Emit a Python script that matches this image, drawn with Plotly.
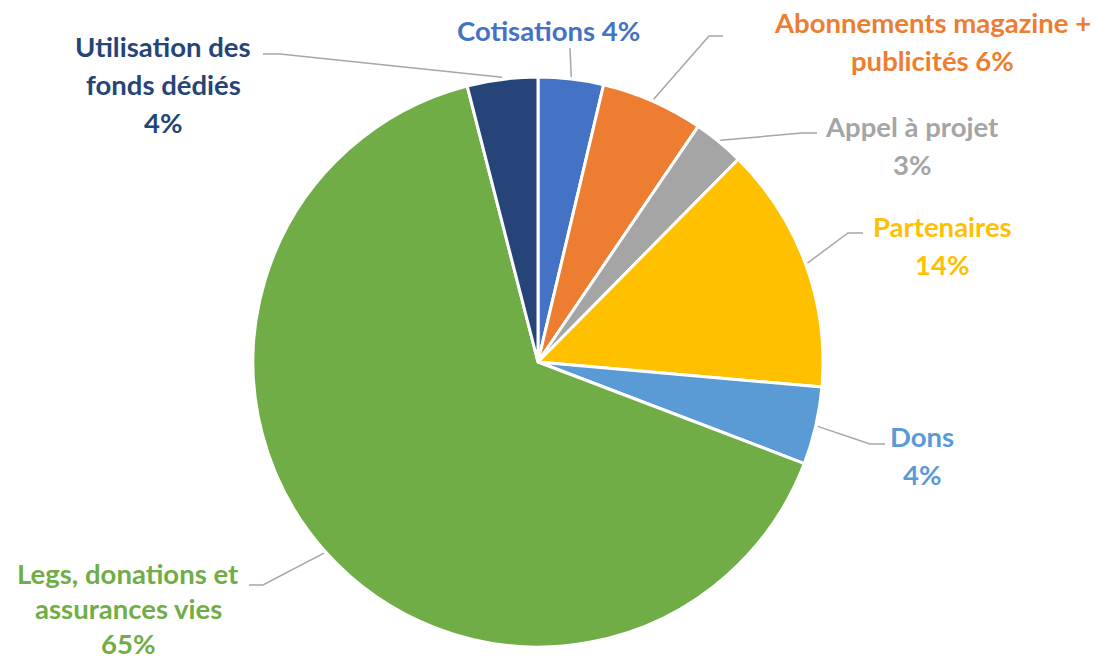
import math
import plotly.graph_objects as go

# ---- data (clockwise from 12 o'clock) ----
categories = ["Cotisations", "Abonnements magazine + publicités", "Appel à projet",
              "Partenaires", "Dons", "Legs, donations et assurances vies",
              "Utilisation des fonds dédiés"]
values = [3.7, 5.8, 2.9, 14.0, 4.4, 65.2, 4.0]
colors = ["#4472C4", "#ED7D31", "#A5A5A5", "#FFC000", "#5B9BD5", "#70AD47", "#264478"]

# label line breaks ({p} = percentage)
label_lines = [
    ["Cotisations {p}"],
    ["Abonnements magazine +", "publicités {p}"],
    ["Appel à projet", "{p}"],
    ["Partenaires", "{p}"],
    ["Dons", "{p}"],
    ["Legs, donations et", "assurances vies", "{p}"],
    ["Utilisation des", "fonds dédiés", "{p}"],
]

# ---- layout / style ----
W, H = 1105, 663
CX, CY, R = 538, 362, 285
# label center x, first-line center y, line spacing
label_pos = [(548, 30, 38), (932, 22, 38), (912, 126, 38), (942, 226, 38),
             (922, 436, 38), (128, 573, 35), (163, 46, 38)]
# leader line: start (near label), elbow
leader = [
    [(570, 48), (570, 50)],
    [(723, 36), (709, 36)],
    [(817, 133), (802, 133)],
    [(863, 233), (848, 233)],
    [(885, 444), (870, 444)],
    [(249, 585), (263, 585)],
    [(263, 54), (280, 54)],
]
FONT = "Lato"
FSIZE = 27.5

total = sum(values)

fig = go.Figure()
fig.add_trace(go.Pie(
    labels=categories, values=values, sort=False, direction="clockwise", rotation=0,
    marker=dict(colors=colors, line=dict(color="white", width=3)),
    textinfo="none", hoverinfo="label+percent", showlegend=False,
    domain=dict(x=[(CX - R) / W, (CX + R) / W], y=[1 - (CY + R) / H, 1 - (CY - R) / H]),
))

# leader lines, tip at the slice middle on the pie edge
cum = 0.0
lx, ly = [], []
for i, v in enumerate(values):
    theta = 2 * math.pi * (cum + v / 2) / total
    cum += v
    tip = (CX + (R + 2) * math.sin(theta), CY - (R + 2) * math.cos(theta))
    pts = leader[i] + [tip]
    lx += [p[0] for p in pts] + [None]
    ly += [p[1] for p in pts] + [None]
fig.add_trace(go.Scatter(x=lx, y=ly, mode="lines", line=dict(color="#A6A6A6", width=1.5),
                         hoverinfo="skip", showlegend=False))

annotations = []
for i, v in enumerate(values):
    pct = f"{round(v / total * 100)}%"
    x0, y0, lh = label_pos[i]
    for j, ln in enumerate(label_lines[i]):
        annotations.append(dict(
            x=x0, y=y0 + j * lh, xref="x", yref="y", text=ln.format(p=pct),
            showarrow=False, xanchor="center", yanchor="middle", borderpad=0,
            font=dict(family=FONT, size=FSIZE, color=colors[i], weight="bold"),
        ))

fig.update_layout(
    width=W, height=H, margin=dict(l=0, r=0, t=0, b=0),
    paper_bgcolor="white", plot_bgcolor="white",
    xaxis=dict(range=[0, W], visible=False, fixedrange=True, domain=[0, 1]),
    yaxis=dict(range=[H, 0], visible=False, fixedrange=True, domain=[0, 1]),
    annotations=annotations,
)
fig.write_html("out.html", config={"displayModeBar": False},
               post_script="document.body.style.margin='0';")
